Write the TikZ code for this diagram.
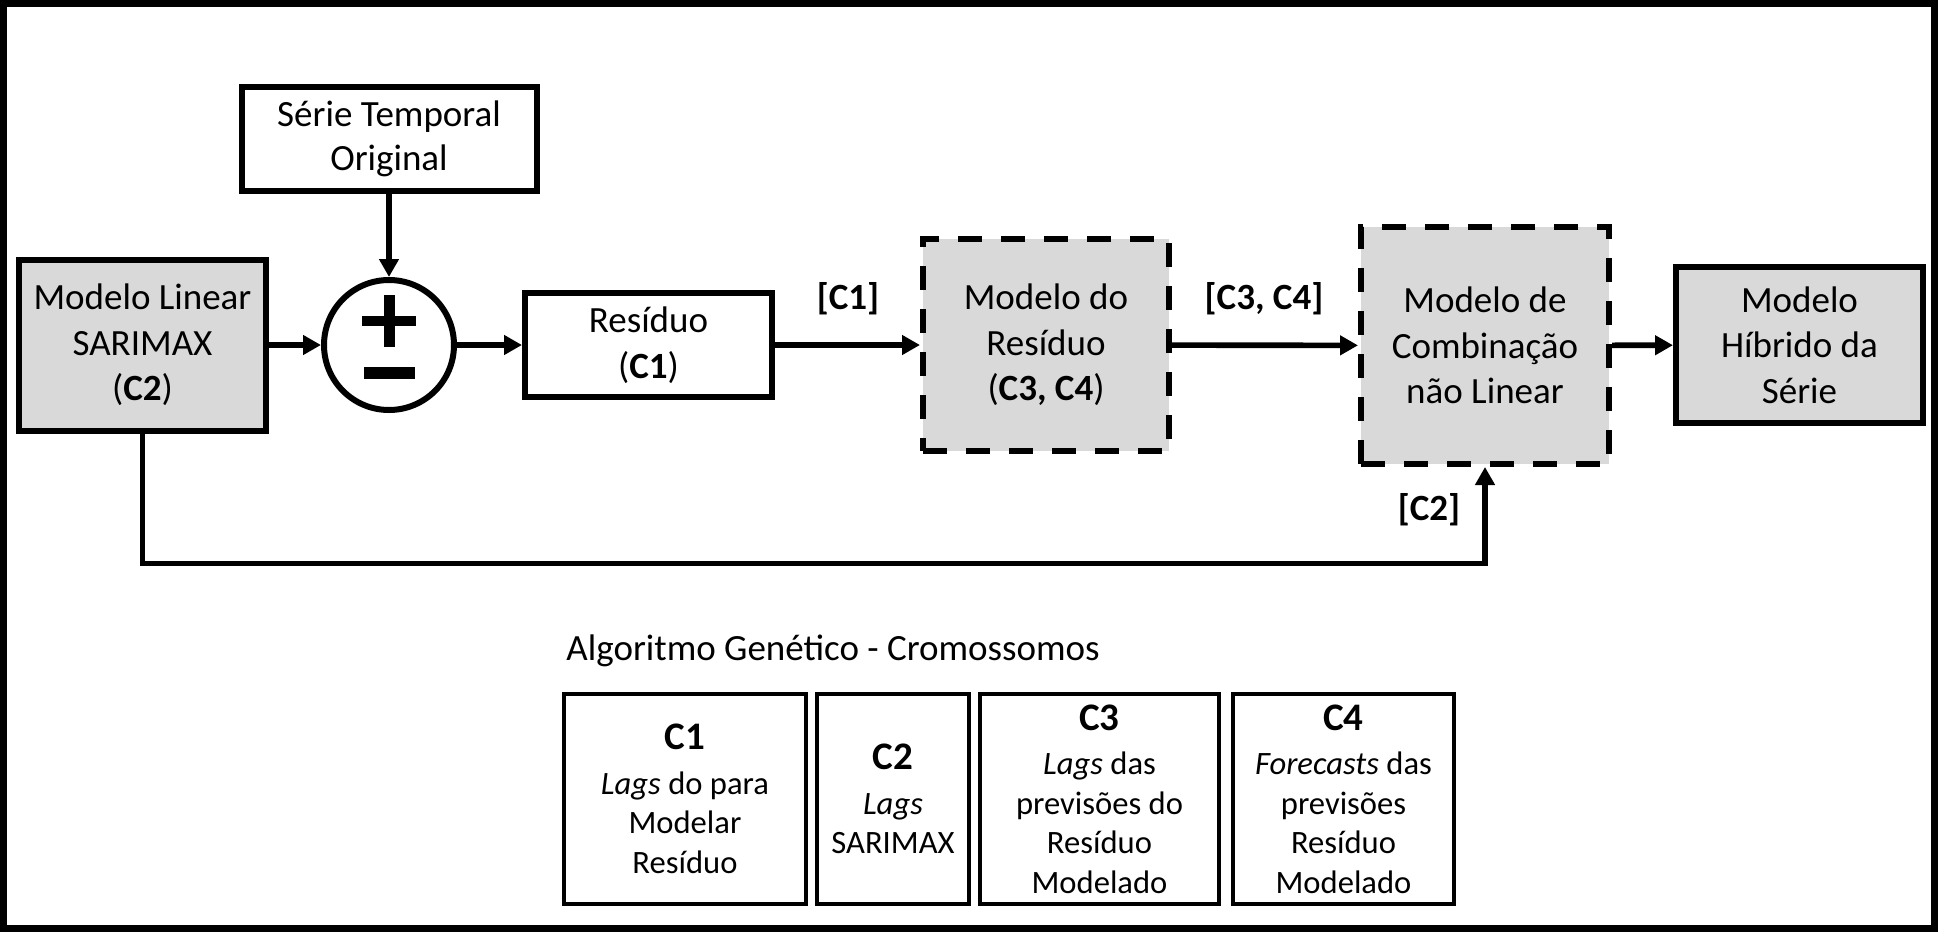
\documentclass[tikz,border=0pt]{standalone}
\usepackage{fontspec}
\setmainfont{Carlito}
\usetikzlibrary{arrows.meta}
\definecolor{boxgray}{HTML}{D9D9D9}
\begin{document}
\begin{tikzpicture}[x=0.5pt,y=-0.5pt,
  mainfont/.style={font=\fontsize{18.5}{22.8}\selectfont},
  blk/.style={draw=black, line width=3pt, align=center, inner sep=0pt, mainfont},
  grayblk/.style={blk, fill=boxgray},
  dashblk/.style={grayblk, dash pattern=on 12pt off 9.5pt},
  conn/.style={line width=2.8pt, -{Triangle[length=9pt,width=9.5pt]}},
  lbl/.style={font=\fontsize{18.5}{22.8}\selectfont\bfseries, inner sep=0pt},
  crom/.style={draw=black, line width=2pt, align=center, inner sep=0pt, minimum height=105pt, font=\fontsize{16.3}{19.75}\selectfont}
]
\useasboundingbox (0,0) rectangle (1938,932);
\draw[line width=3.5pt] (3.5,3.5) rectangle (1934.5,928.5);

\node[blk, minimum width=147.5pt, minimum height=52pt, font=\fontsize{18.5}{21.8}\selectfont] (serie) at (389,139) {Série Temporal\\Original};
\node[grayblk, minimum width=123.5pt, minimum height=85.5pt] (linear) at (142.5,345) {Modelo Linear\\SARIMAX\\(\textbf{C2})};
\node[circle, draw=black, line width=3pt, minimum size=65pt, inner sep=0pt] (soma) at (389,345) {};
\fill[shift={(soma.center)}] (-27,-29) rectangle (27,-19);
\fill[shift={(soma.center)}] (-5.5,-50) rectangle (5.5,2);
\fill[shift={(soma.center)}] (-25.5,22) rectangle (25.5,34);
\node[blk, minimum width=123.5pt, minimum height=52pt] (resid) at (648.5,345) {Resíduo\\(\textbf{C1})};
\node[dashblk, minimum width=123pt, minimum height=106pt] (modres) at (1046,345) {Modelo do\\Resíduo\\(\textbf{C3, C4})};
\node[dashblk, minimum width=124pt, minimum height=118.5pt] (comb) at (1485,345.5) {Modelo de\\Combinação\\não Linear};
\node[grayblk, minimum width=123.5pt, minimum height=78pt] (hib) at (1799.5,345) {Modelo\\Híbrido da\\Série};

\draw[conn] (serie) -- (soma);
\draw[conn] (linear) -- (soma);
\draw[conn] (soma) -- (resid);
\draw[conn] (resid) -- (modres);
\draw[conn] (modres) -- (comb);
\draw[conn] (comb) -- (hib);
\draw[conn] (linear.south) -- ++(0,130) -| (comb.south);

\node[lbl] (l1) at (848,299) {[C1]};
\node[lbl] (l34) at (1264,299) {[C3, C4]};
\node[lbl] (l2) at (1429,510) {[C2]};

\node[anchor=west, mainfont, inner sep=0pt] (ag) at (566,651) {Algoritmo Genético - Cromossomos};

\node[crom, minimum width=121pt] (c1) at (685,799) {{\fontsize{19.5}{22}\selectfont\bfseries C1}\\[2.5pt]\textit{Lags} do para\\Modelar\\Resíduo};
\node[crom, minimum width=76pt] (c2) at (893,799) {{\fontsize{19.5}{22}\selectfont\bfseries C2}\\[2.5pt]\textit{Lags}\\SARIMAX};
\node[crom, minimum width=119.5pt] (c3) at (1099.5,799) {{\fontsize{19.5}{22}\selectfont\bfseries C3}\\[2.5pt]\textit{Lags} das\\previsões do\\Resíduo\\Modelado};
\node[crom, minimum width=110.5pt] (c4) at (1343.5,799) {{\fontsize{19.5}{22}\selectfont\bfseries C4}\\[2.5pt]\textit{Forecasts} das\\previsões\\Resíduo\\Modelado};
\end{tikzpicture}
\end{document}
